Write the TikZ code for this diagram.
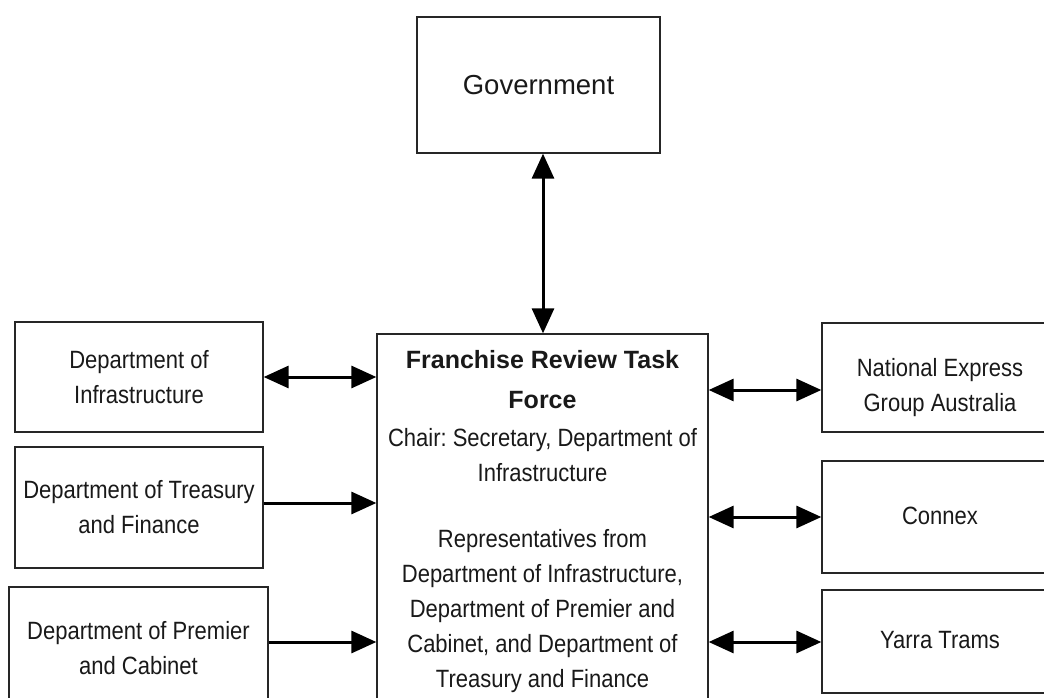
\documentclass[tikz,border=0pt]{standalone}
\usepackage{fontspec}
\setmainfont{Liberation Sans}
\newfontfamily\narrowfont{Liberation Sans}[FakeStretch=0.88]
\usetikzlibrary{arrows.meta}
\frenchspacing

\newcommand\boxfont{\narrowfont\fontsize{25}{35}\selectfont}
\newcommand\titlefont{\bfseries\fontsize{25}{40}\selectfont}
\newcommand\govfont{\fontsize{27.5}{32}\selectfont}

\begin{document}
\begin{tikzpicture}[x=1pt,y=-1pt,
    box/.style={draw=black!85,line width=1.3pt,align=center,inner sep=0pt,font=\boxfont,text=black!90},
    txt/.style={align=center,inner sep=0pt,font=\boxfont,text=black!90,anchor=north},
    link/.style={line width=3pt,-{Triangle[length=25pt,width=22pt]}},
    dlink/.style={line width=3pt,{Triangle[length=25pt,width=22pt]}-{Triangle[length=25pt,width=22pt]}}]
  \useasboundingbox (0,0) rectangle (1044,698);
  \clip (0,0) rectangle (1044,698);

  % top and centre
  \node[box,font=\govfont,minimum width=243pt,minimum height=136pt] (gov) at (538.5,85) {Government};
  \node[box,minimum width=331pt,minimum height=440pt] (task) at (542.5,554) {};
  \node[txt,font=\titlefont] (tasktitle) at (542.5,350.5) {Franchise Review Task\\Force};
  \node[txt] (taskchair) at (542.5,428.5) {Chair: Secretary, Department of\\Infrastructure};
  \node[txt] (taskreps) at (542.5,529.5) {Representatives from\\Department of Infrastructure,\\Department of Premier and\\Cabinet, and Department of\\Treasury and Finance};

  % left side
  \node[box,minimum width=248pt,minimum height=110pt] (doi) at (139,377) {Department of\\Infrastructure};
  \node[box,minimum width=248pt,minimum height=121pt] (dtf) at (139,507.5) {Department of Treasury\\and Finance};
  \node[box,minimum width=259pt,minimum height=122pt] (dpc) at (138.5,648) {Department of Premier\\and Cabinet};

  % right side
  \node[box,minimum width=236pt,minimum height=109pt] (nex) at (940,377.5) {};
  \node[txt,anchor=center] (nextext) at (940,388) {National Express\\Group Australia};
  \node[box,minimum width=236pt,minimum height=112pt] (connex) at (940,517) {\strut Connex};
  \node[box,minimum width=236pt,minimum height=103pt] (yarra) at (940,641.5) {\strut Yarra Trams};

  % connectors
  \draw[dlink] ([xshift=4.5pt]gov.south) -- ([xshift=0.5pt]task.north);
  \draw[dlink] (doi.east) -- (doi.east -| task.west);
  \draw[link] ([yshift=4.5pt]dtf.east) -- ([yshift=4.5pt]dtf.east -| task.west);
  \draw[link] ([yshift=6pt]dpc.east) -- ([yshift=6pt]dpc.east -| task.west);
  \draw[dlink] ([yshift=-12.5pt]nex.west -| task.east) -- ([yshift=-12.5pt]nex.west);
  \draw[dlink] (connex.west -| task.east) -- (connex.west);
  \draw[dlink] ([yshift=-0.5pt]yarra.west -| task.east) -- ([yshift=-0.5pt]yarra.west);
\end{tikzpicture}
\end{document}
